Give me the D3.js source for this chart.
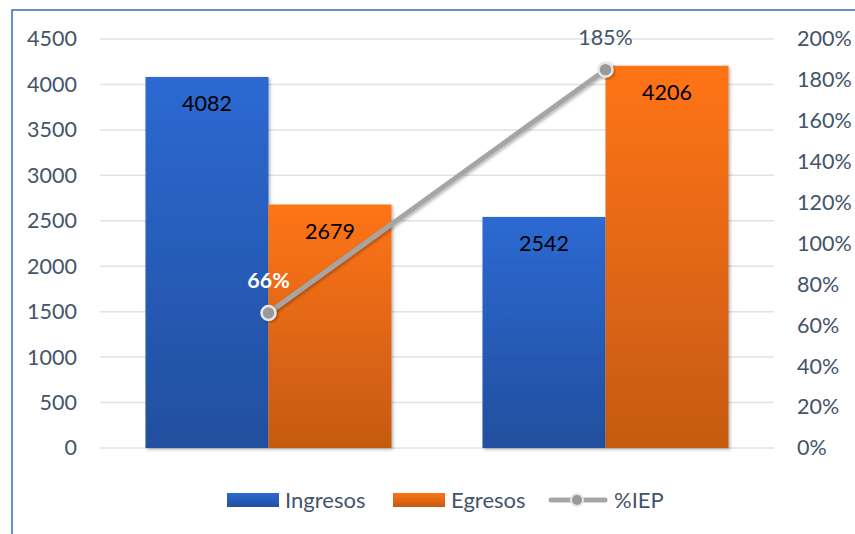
<!DOCTYPE html>
<html>
<head>
<meta charset="utf-8">
<script src="https://cdn.jsdelivr.net/npm/d3@7"></script>
<style>
  html, body { margin: 0; padding: 0; background: #fff; }
  svg { display: block; font-family: Lato, "Open Sans", sans-serif; }
</style>
</head>
<body>
<svg id="chart" width="855" height="534"></svg>
<script>
// Chart data
const categories = ['Periodo 1', 'Periodo 2'];
const seriesNames = ['Ingresos', 'Egresos'];
const ingresos = [4082, 2542];
const egresos = [2679, 4206];
const iep = [0.66, 1.85];
const leftTicks = [0, 500, 1000, 1500, 2000, 2500, 3000, 3500, 4000, 4500];
const rightTicks = [0, 0.2, 0.4, 0.6, 0.8, 1.0, 1.2, 1.4, 1.6, 1.8, 2.0];

const textColor = '#44546a';
const gridColor = '#dfe2e6';
const lineColor = '#a5a5a5';

const svg = d3.select('#chart');
const defs = svg.append('defs');

// Bar gradients
function addGradient(id, top, bottom) {
    const g = defs.append('linearGradient')
        .attr('id', id)
        .attr('x1', 0).attr('y1', 0).attr('x2', 0).attr('y2', 1);
    g.append('stop').attr('offset', '0%').attr('stop-color', top);
    g.append('stop').attr('offset', '100%').attr('stop-color', bottom);
}
addGradient('grad-ingresos', '#2d69d2', '#214f9e');
addGradient('grad-egresos', '#ff7415', '#c55a11');

const shadow = defs.append('filter').attr('id', 'shadow')
    .attr('x', '-10%').attr('y', '-10%').attr('width', '130%').attr('height', '130%');
shadow.append('feDropShadow')
    .attr('dx', 1.5).attr('dy', 1.5).attr('stdDeviation', 1.5)
    .attr('flood-color', '#000').attr('flood-opacity', 0.3);

const colors = { Ingresos: 'url(#grad-ingresos)', Egresos: 'url(#grad-egresos)' };

// Outer frame (only left and top edge are visible)
svg.append('rect')
    .attr('x', 12).attr('y', 10)
    .attr('width', 900).attr('height', 600)
    .attr('fill', 'none')
    .attr('stroke', '#4472c4')
    .attr('stroke-width', 1.6);

// Scales
const plotLeft = 100, plotRight = 774, plotTop = 39, plotBottom = 448;

const x = d3.scaleBand()
    .domain(categories)
    .range([plotLeft, plotRight])
    .paddingInner(0.27)
    .paddingOuter(0.135);

const xSub = d3.scaleBand()
    .domain(seriesNames)
    .range([0, x.bandwidth()]);

const y = d3.scaleLinear().domain([0, 4500]).range([plotBottom, plotTop]);
const y2 = d3.scaleLinear().domain([0, 2]).range([plotBottom, plotTop]);

// Gridlines
svg.append('g')
    .selectAll('line')
    .data(leftTicks)
    .join('line')
    .attr('x1', plotLeft).attr('x2', plotRight)
    .attr('y1', d => y(d)).attr('y2', d => y(d))
    .attr('stroke', gridColor)
    .attr('stroke-width', 1.5);

// Left axis
const leftAxis = svg.append('g')
    .attr('transform', `translate(${plotLeft - 23},0)`)
    .call(d3.axisLeft(y).tickValues(leftTicks).tickSize(0).tickPadding(0)
        .tickFormat(d3.format('d')));
leftAxis.select('.domain').remove();
leftAxis.selectAll('text')
    .attr('fill', textColor)
    .style('font-size', '21.5px')
    .style('font-family', 'Lato, sans-serif');

// Right axis
const rightAxis = svg.append('g')
    .attr('transform', `translate(${plotRight + 23},0)`)
    .call(d3.axisRight(y2).tickValues(rightTicks).tickSize(0).tickPadding(0)
        .tickFormat(d3.format('.0%')));
rightAxis.select('.domain').remove();
rightAxis.selectAll('text')
    .attr('fill', textColor)
    .style('font-size', '21.5px')
    .style('font-family', 'Lato, sans-serif');

// Bars
const barData = categories.flatMap((c, i) => [
    { cat: c, series: 'Ingresos', value: ingresos[i] },
    { cat: c, series: 'Egresos', value: egresos[i] }
]);

const bars = svg.append('g');
bars.selectAll('rect')
    .data(barData)
    .join('rect')
    .attr('x', d => x(d.cat) + xSub(d.series))
    .attr('y', d => y(d.value))
    .attr('width', xSub.bandwidth())
    .attr('height', d => y(0) - y(d.value))
    .attr('fill', d => colors[d.series])
    .attr('filter', 'url(#shadow)');

bars.selectAll('text')
    .data(barData)
    .join('text')
    .attr('x', d => x(d.cat) + xSub(d.series) + xSub.bandwidth() / 2)
    .attr('y', d => y(d.value) + 34)
    .attr('text-anchor', 'middle')
    .attr('fill', '#000')
    .style('font-size', '21.5px')
    .text(d => d.value);

// %IEP line
const linePts = categories.map((c, i) => ({ cat: c, value: iep[i] }));
const lineGen = d3.line()
    .x(d => x(d.cat) + x.bandwidth() / 2)
    .y(d => y2(d.value));

svg.append('path')
    .datum(linePts)
    .attr('d', lineGen)
    .attr('fill', 'none')
    .attr('stroke', lineColor)
    .attr('stroke-width', 5)
    .attr('stroke-linecap', 'round')
    .attr('filter', 'url(#shadow)');

svg.append('g')
    .selectAll('circle')
    .data(linePts)
    .join('circle')
    .attr('cx', d => x(d.cat) + x.bandwidth() / 2)
    .attr('cy', d => y2(d.value))
    .attr('r', 7)
    .attr('fill', '#999999')
    .attr('stroke', '#e6e6e6')
    .attr('stroke-width', 2.5)
    .attr('filter', 'url(#shadow)');

svg.append('g')
    .selectAll('text')
    .data(linePts)
    .join('text')
    .attr('x', d => x(d.cat) + x.bandwidth() / 2)
    .attr('y', d => y2(d.value) - 25)
    .attr('text-anchor', 'middle')
    .attr('fill', (d, i) => i === 0 ? '#ffffff' : textColor)
    .style('font-weight', (d, i) => i === 0 ? 'bold' : 'normal')
    .style('font-size', '21.5px')
    .text(d => d3.format('.0%')(d.value));

// Legend
const legend = svg.append('g').attr('transform', 'translate(0,500)');
const legendItems = [
    { label: 'Ingresos', type: 'bar', fill: colors.Ingresos, x: 227 },
    { label: 'Egresos', type: 'bar', fill: colors.Egresos, x: 393 },
    { label: '%IEP', type: 'line', x: 549 }
];
legendItems.forEach(item => {
    const g = legend.append('g').attr('transform', `translate(${item.x},0)`);
    if (item.type === 'bar') {
        g.append('rect')
            .attr('x', 0).attr('y', -7)
            .attr('width', 52).attr('height', 14)
            .attr('fill', item.fill);
        g.append('text')
            .attr('x', 58).attr('y', 7.5)
            .attr('fill', textColor)
            .style('font-size', '22px')
            .text(item.label);
    } else {
        g.append('line')
            .attr('x1', 2).attr('x2', 56)
            .attr('y1', 0).attr('y2', 0)
            .attr('stroke', lineColor)
            .attr('stroke-width', 5)
            .attr('stroke-linecap', 'round');
        g.append('circle')
            .attr('cx', 28).attr('cy', 0).attr('r', 6)
            .attr('fill', '#999999')
            .attr('stroke', '#e6e6e6')
            .attr('stroke-width', 2);
        g.append('text')
            .attr('x', 65).attr('y', 7.5)
            .attr('fill', textColor)
            .style('font-size', '22px')
            .text(item.label);
    }
});
</script>
</body>
</html>
